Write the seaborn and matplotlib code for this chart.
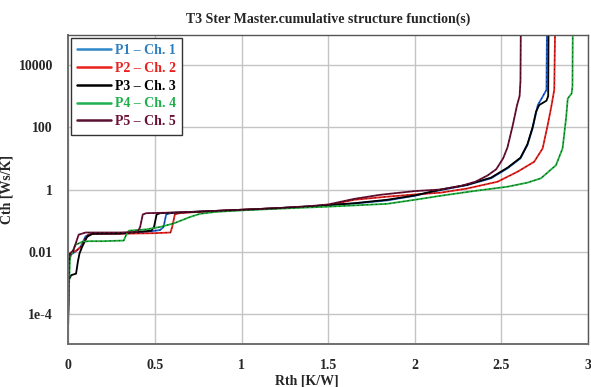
import pandas as pd
import matplotlib.pyplot as plt
import seaborn as sns

# Cumulative structure functions (Rth in K/W, Cth in Ws/K)
p1_rth = [0, 0.003, 0.01, 0.04, 0.07, 0.1, 0.13, 0.3, 0.45, 0.53, 0.55, 0.565, 0.59, 0.8, 1.0, 1.2,
          1.4, 1.5, 1.65, 1.84, 2.0, 2.15, 2.3, 2.44, 2.535, 2.61, 2.65, 2.68, 2.71, 2.738, 2.76, 2.763]
p1_cth = [2.5e-4, 4.0e-3, 7.9e-3, 1.0e-2, 1.41e-2, 3.16e-2, 3.8e-2, 3.8e-2, 4.37e-2, 5.0e-2, 6.3e-2,
          0.158, 0.174, 0.2, 0.219, 0.251, 0.288, 0.316, 0.355, 0.447, 0.631, 0.955, 1.38, 2.29,
          4.79, 10, 26.9, 91.2, 513, 955, 1585, 1.6e5]

p2_rth = [0, 0.003, 0.01, 0.05, 0.08, 0.115, 0.15, 0.3, 0.5, 0.59, 0.6, 0.615, 0.64, 0.8, 1.0, 1.2,
          1.4, 1.5, 1.65, 1.84, 2.0, 2.15, 2.3, 2.478, 2.593, 2.689, 2.738, 2.767, 2.786, 2.805, 2.81]
p2_cth = [2.0e-4, 5.0e-3, 8.9e-3, 1.12e-2, 1.58e-2, 3.55e-2, 3.8e-2, 3.8e-2, 3.98e-2, 4.17e-2, 6.3e-2,
          0.158, 0.174, 0.2, 0.224, 0.251, 0.282, 0.316, 0.468, 0.589, 0.692, 0.794, 1.07, 1.78,
          3.72, 7.76, 20.9, 117, 398, 1585, 1.6e5]

p3_rth = [0, 0.003, 0.017, 0.045, 0.056, 0.065, 0.08, 0.108, 0.14, 0.3, 0.48, 0.495, 0.51, 0.53, 0.8,
          1.0, 1.2, 1.4, 1.5, 1.65, 1.84, 2.0, 2.15, 2.3, 2.44, 2.535, 2.61, 2.65, 2.68, 2.70, 2.718,
          2.76, 2.77, 2.772]
p3_cth = [1.26e-4, 1.26e-3, 1.78e-3, 2.0e-3, 5.0e-3, 8.9e-3, 1.45e-2, 3.02e-2, 3.8e-2, 3.89e-2,
          4.79e-2, 6.3e-2, 0.158, 0.174, 0.2, 0.224, 0.251, 0.288, 0.316, 0.363, 0.468, 0.646, 1.0,
          1.41, 2.4, 5.01, 10.5, 28.2, 100, 316, 513, 708, 1000, 1.6e5]

p4_rth = [0, 0.005, 0.01, 0.04, 0.08, 0.12, 0.2, 0.32, 0.335, 0.35, 0.45, 0.53, 0.607, 0.704, 0.76,
          0.85, 1.0, 1.2, 1.5, 1.84, 2.0, 2.15, 2.34, 2.535, 2.65, 2.728, 2.815, 2.853, 2.873, 2.883,
          2.905, 2.91, 2.912]
p4_cth = [5.0e-5, 1.0e-3, 6.3e-3, 1.66e-2, 2.09e-2, 2.2e-2, 2.2e-2, 2.3e-2, 3.55e-2, 4.79e-2,
          5.25e-2, 6.3e-2, 8.1e-2, 0.132, 0.166, 0.191, 0.214, 0.24, 0.282, 0.347, 0.468, 0.631,
          0.891, 1.23, 1.66, 2.29, 6.03, 20.9, 191, 832, 1202, 2000, 1.6e5]

p5_rth = [0, 0.003, 0.01, 0.03, 0.06, 0.1, 0.2, 0.3, 0.4, 0.415, 0.43, 0.45, 0.6, 0.8, 1.0, 1.2, 1.4,
          1.5, 1.65, 1.8, 2.0, 2.15, 2.27, 2.35, 2.42, 2.47, 2.51, 2.535, 2.565, 2.59, 2.605, 2.61,
          2.612]
p5_cth = [1.0e-4, 5.0e-3, 8.9e-3, 1.12e-2, 3.55e-2, 4.17e-2, 4.17e-2, 4.17e-2, 4.37e-2, 6.3e-2, 0.158,
          0.174, 0.182, 0.2, 0.224, 0.251, 0.295, 0.331, 0.5, 0.676, 0.891, 1.0, 1.32, 1.78, 2.82,
          4.47, 10, 22.4, 112, 501, 1000, 3160, 1.6e5]

series_names = ['P1 \u2013 Ch. 1', 'P2 \u2013 Ch. 2', 'P3 \u2013 Ch. 3', 'P4 \u2013 Ch. 4', 'P5 \u2013 Ch. 5']
series_colors = ['#1f5fd0', '#e8201e', '#000000', '#1fae3c', '#6b1035']
text_colors = ['#2e7fc0', '#e8201e', '#000000', '#1fae4c', '#6b1035']
legend_line_colors = ['#2e86c8', '#e8201e', '#000000', '#1fb050', '#5a1030']

x_ticks = [0, 0.5, 1, 1.5, 2, 2.5, 3]
x_tick_labels = ['0', '0.5', '1', '1.5', '2', '2.5', '3']
y_ticks = [1e-4, 1e-2, 1, 100, 10000]
y_tick_labels = ['1e-4', '0.01', '1', '100', '10000']

# Long-form table for seaborn
frames = []
for name, rth, cth in zip(series_names,
                          [p1_rth, p2_rth, p3_rth, p4_rth, p5_rth],
                          [p1_cth, p2_cth, p3_cth, p4_cth, p5_cth]):
    frames.append(pd.DataFrame({'Rth': rth, 'Cth': cth, 'Series': name}))
df = pd.concat(frames, ignore_index=True)

sns.set_style('white')
plt.rcParams['font.family'] = ['Liberation Serif', 'DejaVu Serif']
plt.rcParams['font.weight'] = 'bold'

fig = plt.figure(figsize=(5.91, 3.87), dpi=100)
ax = fig.add_axes([0.1155, 0.111, 0.8795, 0.799])

# measured curves
sns.lineplot(data=df, x='Rth', y='Cth', hue='Series', hue_order=series_names,
             palette=dict(zip(series_names, series_colors)), sort=False, estimator=None,
             linewidth=1.3, ax=ax)
# fitted curves drawn as thin black dashes on top
sns.lineplot(data=df, x='Rth', y='Cth', units='Series', sort=False, estimator=None,
             color='black', linewidth=0.6, linestyle=(0, (1.5, 4)), alpha=0.7, legend=False, ax=ax)

ax.set_yscale('log')
ax.set_xlim(0, 3)
ax.set_ylim(1.1e-5, 9.2e4)
ax.set_xticks(x_ticks)
ax.set_xticklabels(x_tick_labels)
ax.set_yticks(y_ticks)
ax.set_yticklabels(y_tick_labels)
ax.minorticks_off()
ax.grid(True, color='#c4c4c4', linewidth=1.0)
ax.tick_params(labelsize=10, length=3, color='#666666', pad=8)
for lab in ax.get_xticklabels() + ax.get_yticklabels():
    lab.set_fontweight('bold')
for side in ['left', 'bottom']:
    ax.spines[side].set_color('#6e6e6e')
    ax.spines[side].set_linewidth(1.4)
for side in ['top', 'right']:
    ax.spines[side].set_color('#555555')
    ax.spines[side].set_linewidth(1.0)

ax.set_title('T3 Ster Master.cumulative structure function(s)', fontsize=10, fontweight='bold', pad=9)
ax.set_xlabel('Rth [K/W]', fontsize=10, fontweight='bold')
ax.xaxis.set_label_coords(0.458, -0.1)
ax.set_ylabel('Cth [Ws/K]', fontsize=10, fontweight='bold')
ax.yaxis.set_label_coords(-0.105, 0.5)

handles, labels = ax.get_legend_handles_labels()
leg = ax.legend(handles, labels, loc='upper left', fontsize=10, frameon=True, fancybox=False,
                edgecolor='#333333', framealpha=1, handlelength=2.4, handletextpad=0.3,
                labelspacing=0.35, borderaxespad=0.2, borderpad=0.45)
leg.get_frame().set_linewidth(1.0)
for txt, col in zip(leg.get_texts(), text_colors):
    txt.set_color(col)
    txt.set_fontweight('bold')
for line, col in zip(leg.get_lines(), legend_line_colors):
    line.set_linewidth(1.8)
    line.set_color(col)

fig.savefig('out.png', dpi=100)
plt.close(fig)
